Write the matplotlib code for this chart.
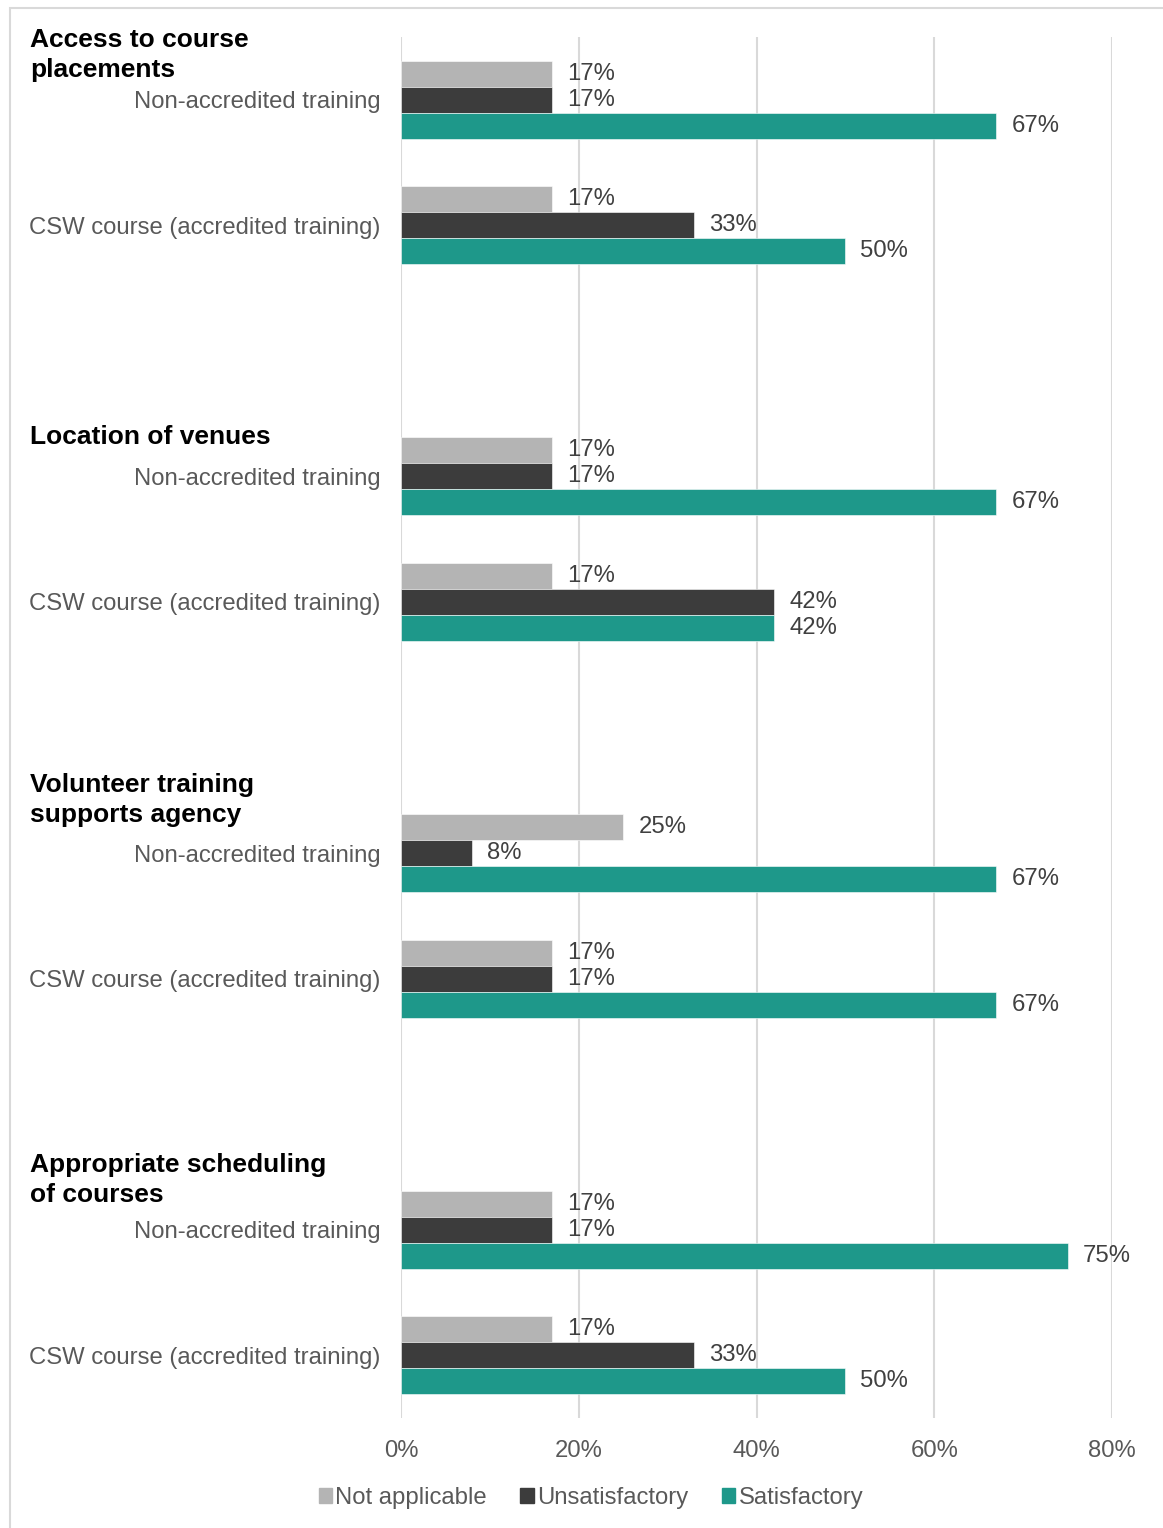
import numpy as np
import matplotlib.pyplot as plt
from matplotlib.patches import Rectangle

plt.rcParams['font.family'] = ['Liberation Sans', 'DejaVu Sans']

# survey data
headings = ["Access to course\nplacements", "Location of venues",
            "Volunteer training\nsupports agency", "Appropriate scheduling\nof courses"]
courses = ["Non-accredited training", "CSW course (accredited training)"]
series = ["Not applicable", "Unsatisfactory", "Satisfactory"]
colors = ["#B4B4B4", "#3C3C3C", "#1E988A"]

# values per heading: [non-accredited, csw] for each series
not_applicable = [[17, 17], [17, 17], [25, 17], [17, 17]]
unsatisfactory = [[17, 33], [17, 42], [8, 17], [17, 33]]
satisfactory = [[67, 50], [67, 42], [67, 67], [75, 50]]

# heading offsets above the first row (row units)
heading_offset = [0.14, 0.22, 0.21, 0.18]

W, H = 1163, 1528
fig = plt.figure(figsize=(W / 100, H / 100), dpi=100)
ax = fig.add_axes([401 / W, 1 - 1418 / H, (1112 - 401) / W, (1418 - 37) / H])

# frame around the whole chart area
fig.patches.append(Rectangle((9.5 / W, -0.05), 1.2, 1 - 7.5 / H + 0.05,
                             transform=fig.transFigure, fill=False,
                             edgecolor="#D9D9D9", linewidth=1.5))

bar_h = 26 / 125.5
all_vals = [not_applicable, unsatisfactory, satisfactory]
ytick_pos = []
ytick_lab = []
for g in range(len(headings)):
    for c in range(len(courses)):
        row = 3 * g + c
        ytick_pos.append(row)
        ytick_lab.append(courses[c])
        for s in range(3):
            y = row + (s - 1) * bar_h
            v = all_vals[s][g][c]
            ax.barh(y, v / 100, height=bar_h, color=colors[s],
                    edgecolor="white", linewidth=0.4, zorder=3)
            ax.text(v / 100 + 0.017, y, "%d%%" % v, va="center", ha="left",
                    fontsize=17.2, color="#404040", zorder=4)
    ax.text(-0.417, 3 * g - heading_offset[g], headings[g], ha="left", va="bottom",
            fontsize=19, fontweight="bold", color="black", linespacing=1.3)

ax.set_xlim(0, 0.8)
ax.set_ylim(10.5, -0.5)
ax.set_xticks(np.arange(0, 0.81, 0.2))
ax.set_xticklabels(["%d%%" % round(t * 100) for t in np.arange(0, 0.81, 0.2)])
ax.set_yticks(ytick_pos)
ax.set_yticklabels(ytick_lab)
ax.tick_params(axis="both", length=0, labelsize=17.2, labelcolor="#595959")
ax.tick_params(axis="y", pad=15)
ax.tick_params(axis="x", pad=16)
ax.grid(axis="x", color="#D9D9D9", linewidth=1.5, zorder=0)
for sp in ax.spines.values():
    sp.set_visible(False)

handles = [Rectangle((0, 0), 1, 1, color=col) for col in colors]
fig.legend(handles, series, loc="center", bbox_to_anchor=(591 / W, 1 - 1498 / H),
           ncol=3, frameon=False, fontsize=17.2, handlelength=0.55, handleheight=0.55,
           handletextpad=0.15, columnspacing=1.4, labelcolor="#595959")

fig.savefig("out.png", dpi=100)
